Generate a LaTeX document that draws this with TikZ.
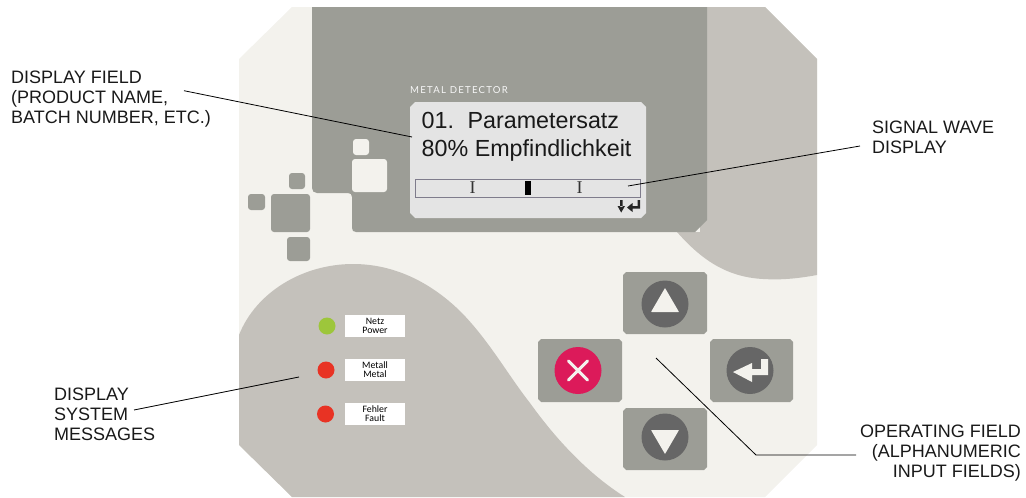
\documentclass[tikz,border=0pt]{standalone}
\usepackage{fontspec}
\setmainfont{Liberation Sans}
\newfontfamily\platefont[LetterSpace=13]{Lato}
\newfontfamily\tagfont{Carlito}
\newfontfamily\beamfont{Liberation Serif}
\definecolor{cream}{HTML}{F3F2ED}
\definecolor{stone}{HTML}{9C9D96}
\definecolor{taupe}{HTML}{C4C1BB}
\definecolor{lcd}{HTML}{E4E4E4}
\definecolor{knob}{HTML}{666666}
\definecolor{pinkx}{HTML}{DC1A5A}
\definecolor{ledgreen}{HTML}{9DC63B}
\definecolor{ledred}{HTML}{E83324}
\definecolor{barline}{HTML}{7F7C8C}
\tikzset{
  callout/.style={font=\fontsize{18}{20}\selectfont,inner sep=0pt,text=black!90},
  leader/.style={draw=black,line width=0.8pt},
  softsq/.style={fill=stone,rounded corners=3pt},
  creamsq/.style={fill=cream,rounded corners=3pt},
  keypad/.style={fill=stone},
  knobc/.style={fill=knob},
  led/.style={circle,inner sep=0pt,minimum size=17pt},
  tagbox/.style={fill=white,minimum width=60pt,minimum height=22pt,inner sep=0pt,align=center,
    font=\tagfont\fontsize{9.8}{9}\selectfont,text=black},
  lcdline/.style={anchor=base west,inner sep=0pt,font=\fontsize{23.3}{24}\selectfont,text=black!90},
  ibeam/.style={inner sep=0pt,font=\beamfont\fontsize{18}{18}\selectfont,text=black!80}
}
\newcommand{\chamfrect}[5]{\fill[#5] (#1+3,#2) -- (#3-3,#2) -- (#3,#2+3) -- (#3,#4-3) -- (#3-3,#4) -- (#1+3,#4) -- (#1,#4-3) -- (#1,#2+3) -- cycle;}
\begin{document}
\begin{tikzpicture}[x=1pt,y=-1pt]
\useasboundingbox (0,0) rectangle (1026,498);
% panel
\fill[cream] (292,7) -- (765,7) -- (817,59) -- (817,445) -- (765,497) -- (292,497) -- (239,445) -- (239,59) -- cycle;
% right taupe
\fill[taupe] (700,7) -- (765,7) -- (817,59) -- (817,275) .. controls (795,279) and (780,280) .. (763,279)
  .. controls (725,277) and (700,258) .. (677,232) -- (700,232) -- cycle;
% lower-left blob
\fill[taupe] (239,335) .. controls (256,292) and (303,264) .. (353,264)
  .. controls (395,264) and (432,283) .. (462,313)
  .. controls (490,342) and (508,375) .. (530,403)
  .. controls (558,442) and (590,475) .. (625,497)
  -- (292,497) -- (239,445) -- cycle;
% dark upper field
\fill[stone] (312,7) -- (707,7) -- (707,220) -- (695,232) -- (356,232)
  .. controls (353.5,232) and (352,230.5) .. (352,228) -- (352,197)
  .. controls (352,194.500) and (350.5,193) .. (348,193) -- (317,193)
  .. controls (314,193) and (312,191) .. (312,188) -- cycle;
% squares
\fill[creamsq] (353,139) rectangle (369,155);
\fill[creamsq] (352,159) rectangle (387,192);
\fill[softsq] (289,173) rectangle (305,189);
\fill[softsq] (248,194) rectangle (265,210);
\fill[softsq] (271,194) rectangle (310,232);
\fill[softsq] (287,237) rectangle (310,261);
% display
\node[anchor=base west,inner sep=0pt,text=white!92!stone,font=\platefont\fontsize{9.6}{9}\selectfont] (plate) at (410,93.5) {METAL DETECTOR};
\fill[lcd] (415,102) -- (641,102) -- (646,107) -- (646,213) -- (641,218) -- (415,218) -- (410,213) -- (410,107) -- cycle;
\node[lcdline] (lineone) at (421.5,128) {01.\hspace{0.58em}Parametersatz};
\node[lcdline] (linetwo) at (421.5,156) {80\% Empfindlichkeit};
\draw[barline,line width=0.7pt] (415.500,179.500) rectangle (640.500,197);
\node[ibeam] (beamA) at (472.500,188) {I};
\node[ibeam] (beamB) at (579.500,188) {I};
\fill[black] (525,181) rectangle (531,195);
% softkey icons
\fill[black!85] (620,200) rectangle (622.500,207) (617.500,206) -- (625,206) -- (621.200,212.500) -- cycle;
\fill[black!85] (627,207.500) -- (632.500,203) -- (632.500,206) -- (637.500,206) -- (637.500,200) -- (640,200) -- (640,208.500) -- (632.500,208.500) -- (632.500,212) -- cycle;
% keypad
\chamfrect{623}{272}{707}{334}{keypad}
\chamfrect{538}{339}{622}{402}{keypad}
\chamfrect{710}{339}{793}{402}{keypad}
\chamfrect{623}{408}{707}{470}{keypad}
\fill[knobc] (665,304) circle (23.5);
\fill[knobc] (665,437) circle (23.5);
\fill[knobc] (750,370.5) circle (23.5);
\fill[pinkx] (578,370.5) circle (23.5);
\fill[cream,rounded corners=0.5pt] (651,312) -- (679,312) -- (665,288) -- cycle;
\fill[cream,rounded corners=0.5pt] (651,430) -- (679,430) -- (665,454) -- cycle;
\draw[cream,line width=3pt,line cap=round] (568.5,361) -- (587.5,380) (587.5,361) -- (568.5,380);
\fill[cream] (733,372) -- (752,363) -- (752,369) -- (761,369) -- (761,359) -- (768,359) -- (768,375) -- (752,375) -- (752,382) -- cycle;
% LEDs and tags
\node[led,fill=ledgreen] (ledA) at (327,326) {};
\node[led,fill=ledred] (ledB) at (326,370) {};
\node[led,fill=ledred] (ledC) at (325.5,414) {};
\node[tagbox] (tagA) at (375,326) {Netz\\Power};
\node[tagbox] (tagB) at (375,370) {Metall\\Metal};
\node[tagbox] (tagC) at (375,414) {Fehler\\Fault};
% callouts
\node[callout,anchor=base west,align=left] (lblA) at (11,123.5) {DISPLAY FIELD\\(PRODUCT NAME,\\BATCH NUMBER, ETC.)};
\node[callout,anchor=base west,align=left] (lblB) at (872,153.5) {SIGNAL WAVE\\DISPLAY};
\node[callout,anchor=base west,align=left] (lblC) at (54,440) {DISPLAY\\SYSTEM\\MESSAGES};
\node[callout,anchor=base east,align=right] (lblD) at (1021,477.5) {OPERATING FIELD\\(ALPHANUMERIC\\INPUT FIELDS)};
% leaders
\coordinate (fromA) at (184,90.7);
\coordinate (toA) at (412,137);
\coordinate (fromB) at (860,146);
\coordinate (toB) at (628,186);
\coordinate (fromC) at (134,410);
\coordinate (toC) at (299,377);
\coordinate (fromD) at (856,455);
\coordinate (bendD) at (756,455);
\coordinate (toD) at (656,358);
\draw[leader] (fromA) -- (toA);
\draw[leader] (fromB) -- (toB);
\draw[leader] (fromC) -- (toC);
\draw[leader] (fromD) -- (bendD) -- (toD);
\end{tikzpicture}
\end{document}
